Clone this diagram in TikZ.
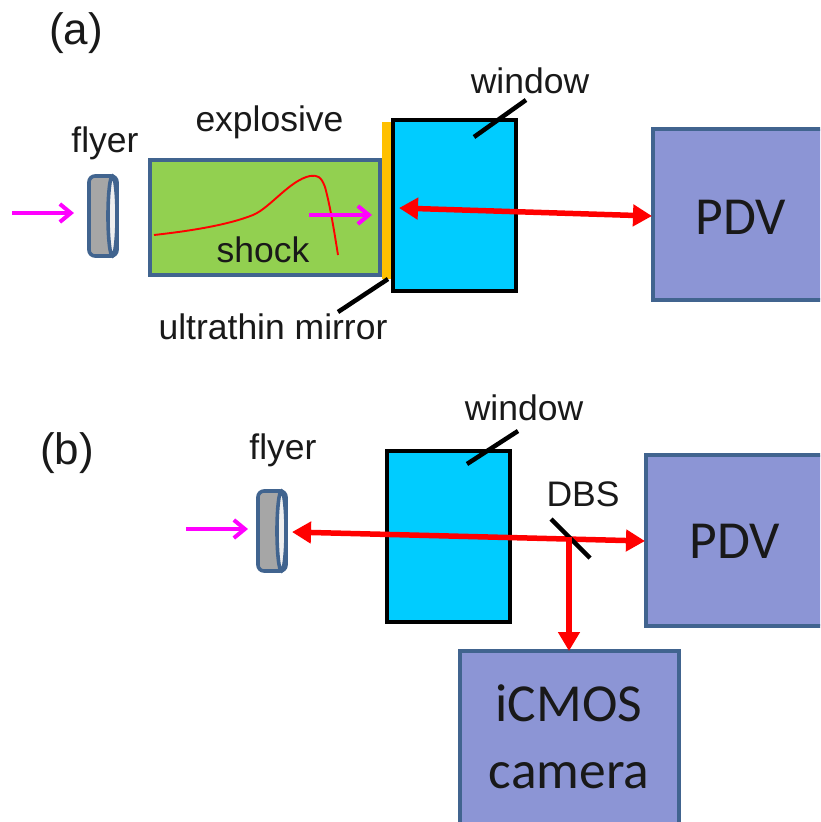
\documentclass[tikz,border=0pt]{standalone}
\usepackage{fontspec}
\setmainfont{Liberation Sans}
\newfontfamily\calib{Carlito}
\usetikzlibrary{arrows.meta}
\definecolor{bluebd}{HTML}{41648F}
\definecolor{boxfill}{HTML}{8C95D5}
\definecolor{greenfill}{HTML}{92D050}
\definecolor{cyanfill}{HTML}{00CCFF}
\definecolor{orangefill}{HTML}{FFC000}
\definecolor{flygray}{HTML}{A6A6A6}
\definecolor{mag}{HTML}{FF00FF}
\tikzset{
  x=1pt,y=-1pt,
  box/.style={draw,line width=3.6pt,rectangle,inner sep=0pt,outer sep=0pt},
  instr/.style={box,draw=bluebd,fill=boxfill},
  instrtext/.style={font=\calib\fontsize{53.5}{67}\selectfont,inner sep=0pt,align=center,text=black!90},
  win/.style={box,draw=black,fill=cyanfill,minimum width=123pt,minimum height=171pt},
  lbl/.style={font=\fontsize{35.5}{40}\selectfont,inner sep=0pt,text=black!90},
  panel/.style={font=\fontsize{44}{50}\selectfont,inner sep=0pt,text=black!90},
  pointer/.style={line width=4.5pt,black},
  hitarrow/.style={draw=mag,line width=4pt,-{Straight Barb[length=11pt,width=18pt,line width=4pt]}},
  beam/.style={draw=red,line width=5.5pt,-{Triangle[length=19pt,width=21pt]}},
  beamboth/.style={draw=red,line width=5.5pt,{Triangle[length=19pt,width=21pt]}-{Triangle[length=19pt,width=21pt]}},
  pics/flyer/.style={code={
    \draw[bluebd,line width=3.6pt,fill=flygray,rounded corners=6pt] (1,-40) rectangle (29,40);
    \draw[bluebd,line width=3.6pt,fill=white!82!flygray] (24.5,0) ellipse [x radius=4.5,y radius=40];
  }}
}
\begin{document}
\begin{tikzpicture}
\useasboundingbox (0,0) rectangle (820,822);
\clip (0,0) rectangle (820,822);
% panel a
\node[panel] (pa) at (76,33) {(a)};
\node[lbl] (flyA) at (105,143) {flyer};
\node[lbl] (expl) at (269.5,122) {explosive};
\node[lbl] (winA) at (530,81) {window};
\node[box,draw=bluebd,fill=greenfill,minimum width=230pt,minimum height=115pt] (explBox) at (265,217.5) {};
\node[rectangle,fill=orangefill,minimum width=10pt,minimum height=157pt,inner sep=0pt] (mirror) at (386.5,200.5) {};
\node[win] (windowA) at (454.5,205.5) {};
\node[instr,minimum width=198pt,minimum height=171pt] (pdvBoxA) at (752,214.5) {};
\node[instrtext] (pdvA) at (741,217) {PDV};
\pic (flyerA) at (88,216) {flyer};
\draw[red,line width=1.9pt] (154,235) .. controls (190,231) and (228,225) .. (253,215) .. controls (270,208) and (290,180) .. (310,176) .. controls (317,175) and (321,176) .. (325,187) .. controls (330,205) and (334,230) .. (338,255);
\node[lbl] (shock) at (263,250) {shock};
\coordinate (h1s) at (12,213); \coordinate (h1e) at (74,213);
\coordinate (h2s) at (309,215); \coordinate (h2e) at (372,215);
\draw[hitarrow] (h1s) -- (h1e);
\draw[hitarrow] (h2s) -- (h2e);
\coordinate (ra) at (399,208); \coordinate (rb) at (652,216);
\draw[beamboth] (ra) -- (rb);
\node[lbl] (mirr) at (273,327) {ultrathin mirror};
\coordinate (ptA1) at (338,312); \coordinate (ptA2) at (388,279);
\draw[pointer] (ptA1) -- (ptA2);
\coordinate (ptB1) at (474,137); \coordinate (ptB2) at (526,100);
\draw[pointer] (ptB1) -- (ptB2);
% panel b
\node[panel] (pb) at (67,453) {(b)};
\node[lbl] (flyB) at (283,450) {flyer};
\node[lbl] (winB) at (524,408) {window};
\node[lbl] (dbs) at (583,494) {DBS};
\node[win] (windowB) at (448.5,536.5) {};
\node[instr,minimum width=198pt,minimum height=171pt] (pdvBoxB) at (745,540.5) {};
\node[instrtext] (pdvB) at (735,541) {PDV};
\node[instr,minimum width=219pt,minimum height=198pt] (cam) at (569.5,750) {};
\node[instrtext] (camT) at (569,737) {iCMOS\\camera};
\pic (flyerB) at (257,531) {flyer};
\coordinate (h3s) at (186,529); \coordinate (h3e) at (248,529);
\draw[hitarrow] (h3s) -- (h3e);
\coordinate (rc) at (292,532); \coordinate (rd) at (645,541);
\draw[beamboth] (rc) -- (rd);
\coordinate (dbs1) at (551,519); \coordinate (dbs2) at (590,558);
\draw[pointer] (dbs1) -- (dbs2);
\coordinate (rf) at (569,537);
\draw[beam] (rf) -- (cam.north -| rf);
\coordinate (ptC1) at (467,464); \coordinate (ptC2) at (518,431);
\draw[pointer] (ptC1) -- (ptC2);
\end{tikzpicture}
\end{document}
